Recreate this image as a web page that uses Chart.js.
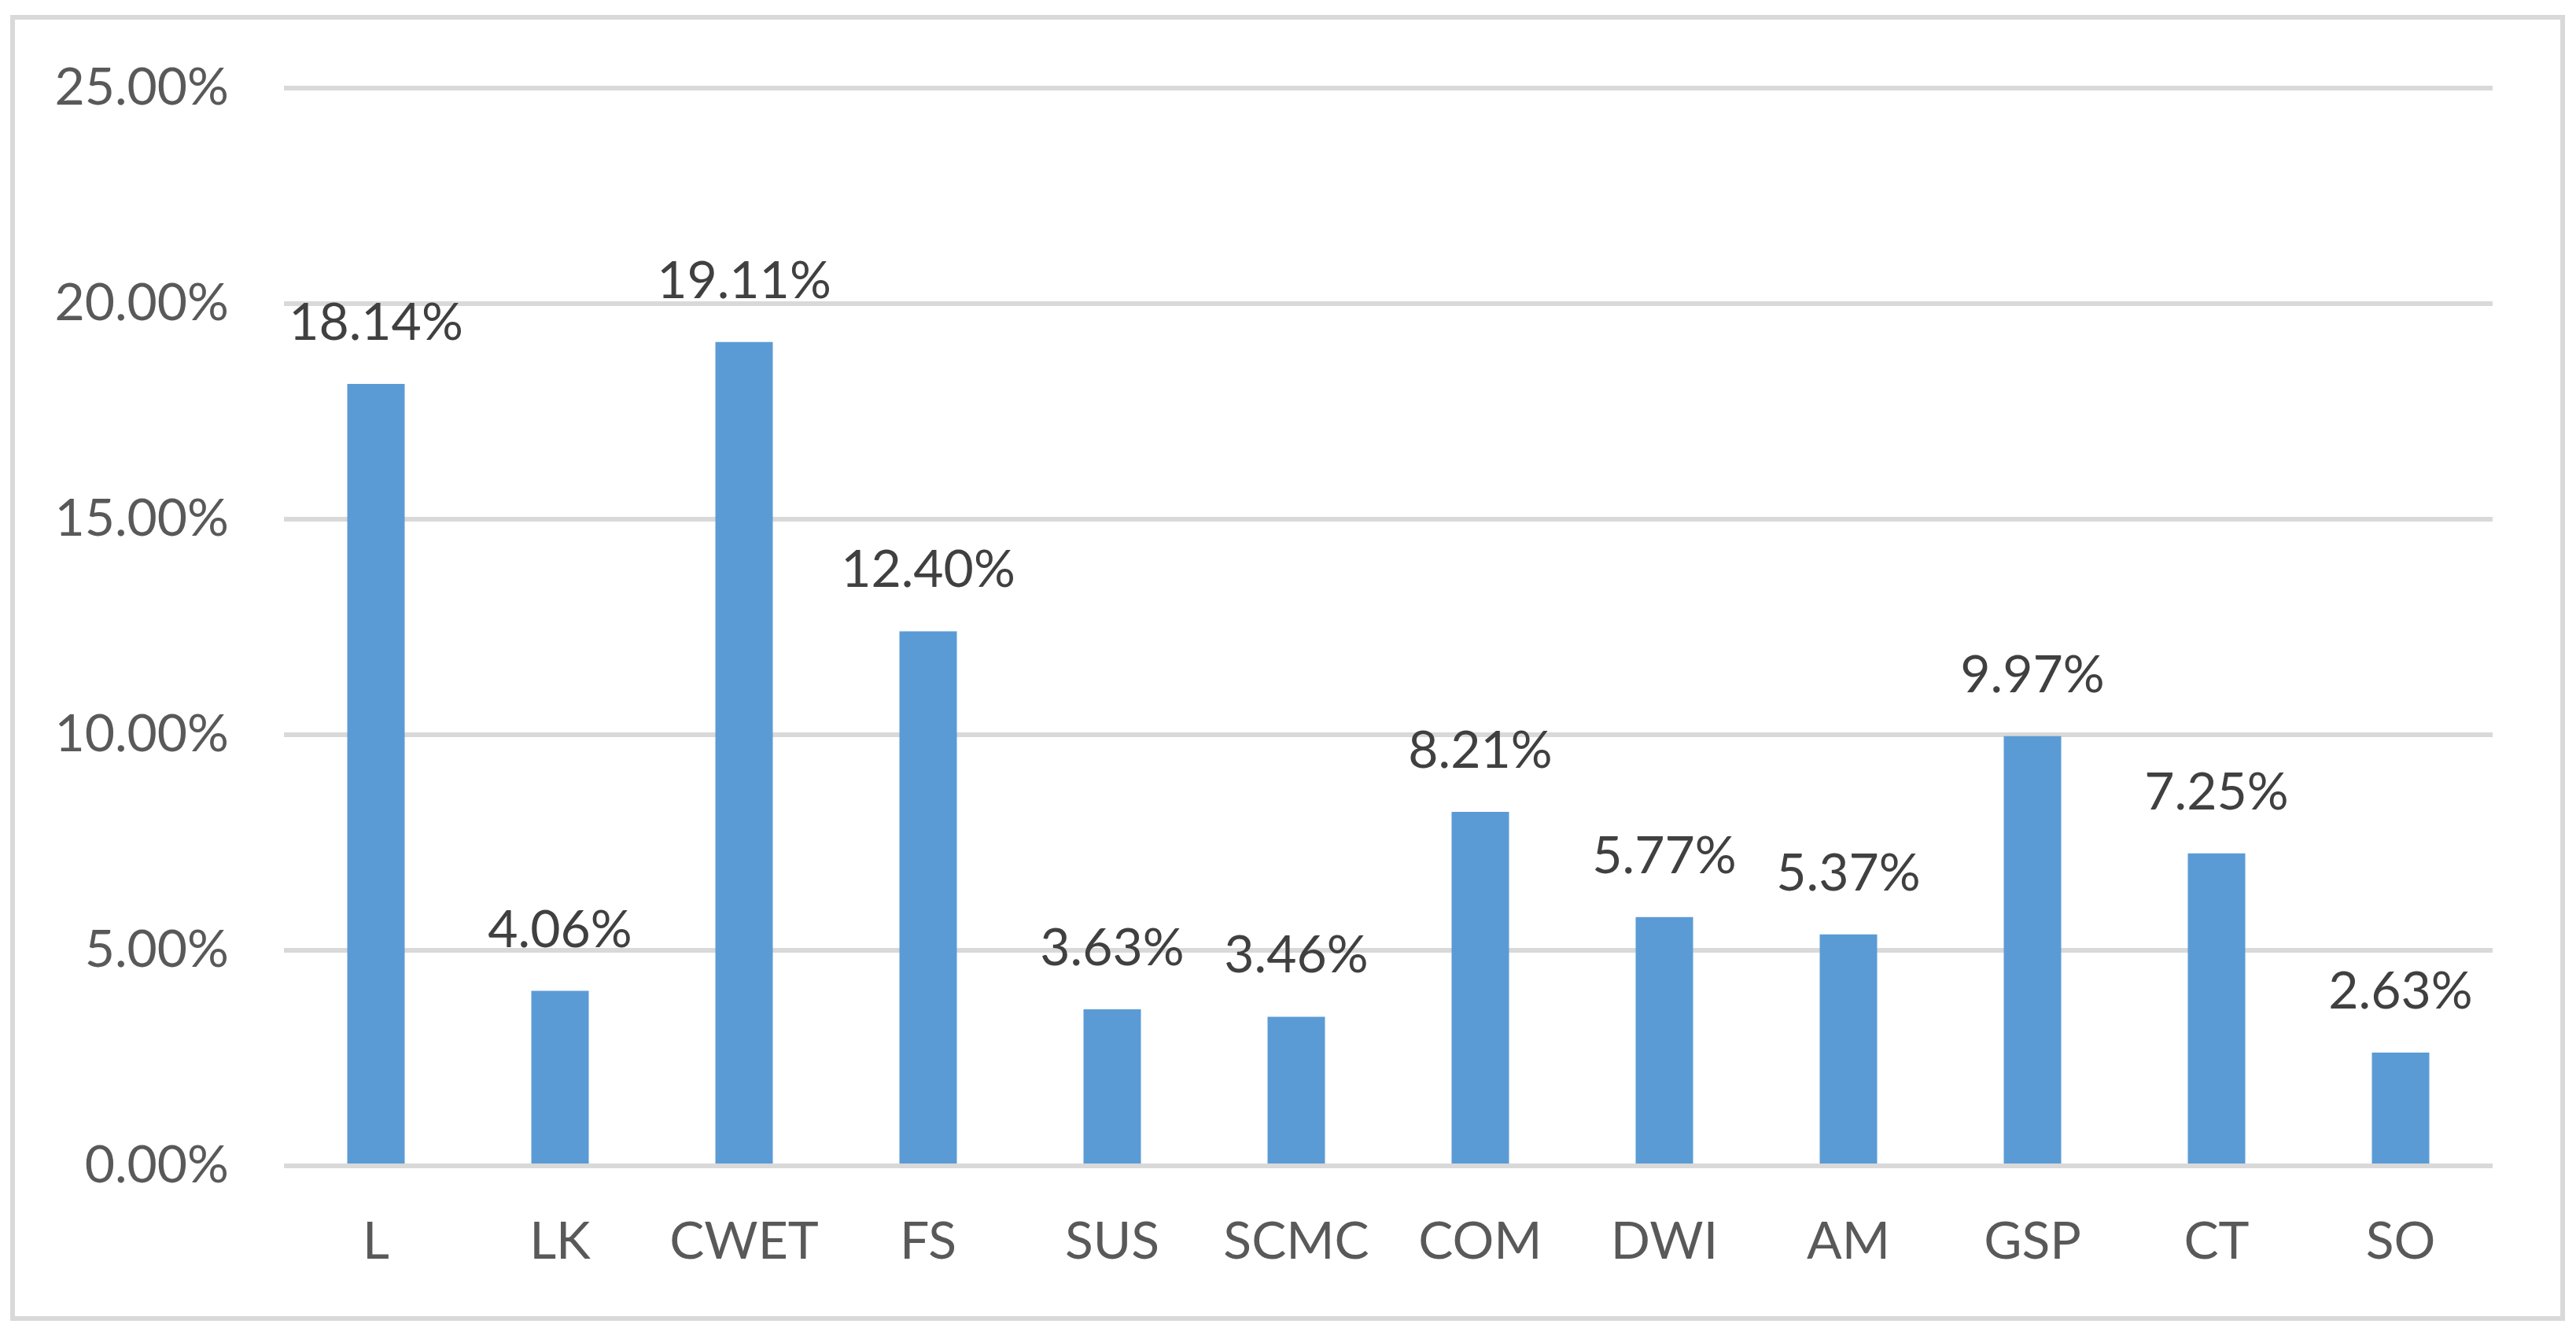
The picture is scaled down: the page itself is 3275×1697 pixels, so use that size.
<!DOCTYPE html>
<html>
<head>
<meta charset="utf-8">
<script src="https://cdn.jsdelivr.net/npm/chart.js@4"></script>
<style>
  html, body { margin: 0; padding: 0; background: #fff; }
  #wrap { width: 3275px; height: 1697px; }
</style>
</head>
<body>
<div id="wrap"><canvas id="mainChart" width="3275" height="1697"></canvas></div>
<script>
// Dados do gráfico
const categorias = ['L', 'LK', 'CWET', 'FS', 'SUS', 'SCMC', 'COM', 'DWI', 'AM', 'GSP', 'CT', 'SO'];
const valores = [18.14, 4.06, 19.11, 12.40, 3.63, 3.46, 8.21, 5.77, 5.37, 9.97, 7.25, 2.63];
const yTicks = [0, 5, 10, 15, 20, 25];

const fonte = "Lato, 'Open Sans', sans-serif";

function formatPct(v) {
    return v.toFixed(2) + '%';
}

// Moldura externa cinza
const molduraPlugin = {
    id: 'moldura',
    beforeDraw(chart) {
        const ctx = chart.ctx;
        ctx.save();
        ctx.fillStyle = '#ffffff';
        ctx.fillRect(0, 0, chart.width, chart.height);
        ctx.strokeStyle = '#d9d9d9';
        ctx.lineWidth = 6;
        ctx.strokeRect(16, 22, 3242, 1654);
        ctx.restore();
    }
};

// Rótulos de valor acima das barras
const rotulosPlugin = {
    id: 'rotulos',
    afterDatasetsDraw(chart) {
        const ctx = chart.ctx;
        const meta = chart.getDatasetMeta(0);
        ctx.save();
        ctx.font = '66px ' + fonte;
        ctx.fillStyle = '#404040';
        ctx.textAlign = 'center';
        ctx.textBaseline = 'alphabetic';
        meta.data.forEach((bar, i) => {
            ctx.fillText(formatPct(valores[i]), bar.x, bar.y - 56);
        });
        ctx.restore();
    }
};

const ctx = document.getElementById('mainChart').getContext('2d');
const chart = new Chart(ctx, {
    type: 'bar',
    data: {
        labels: categorias,
        datasets: [{
            data: valores,
            backgroundColor: '#5b9bd5',
            borderWidth: 0,
            categoryPercentage: 1,
            barPercentage: 0.312
        }]
    },
    options: {
        responsive: false,
        animation: false,
        devicePixelRatio: 1,
        layout: { padding: { top: 112, right: 106, bottom: 0, left: 0 } },
        plugins: {
            legend: { display: false },
            tooltip: { enabled: false }
        },
        scales: {
            y: {
                min: 0,
                max: 25,
                afterBuildTicks: (s) => { s.ticks = yTicks.map(v => ({ value: v })); },
                afterFit: (s) => { s.width = 361; },
                border: { display: false },
                grid: { color: '#d9d9d9', lineWidth: 6, drawTicks: false },
                ticks: {
                    color: '#595959',
                    padding: 70,
                    font: { family: fonte, size: 66 },
                    callback: (v) => formatPct(v)
                }
            },
            x: {
                afterFit: (s) => { s.height = 215; },
                border: { display: false },
                grid: { display: false, drawTicks: false },
                ticks: {
                    color: '#595959',
                    padding: 57,
                    font: { family: fonte, size: 66 }
                }
            }
        }
    },
    plugins: [molduraPlugin, rotulosPlugin]
});
</script>
</body>
</html>
